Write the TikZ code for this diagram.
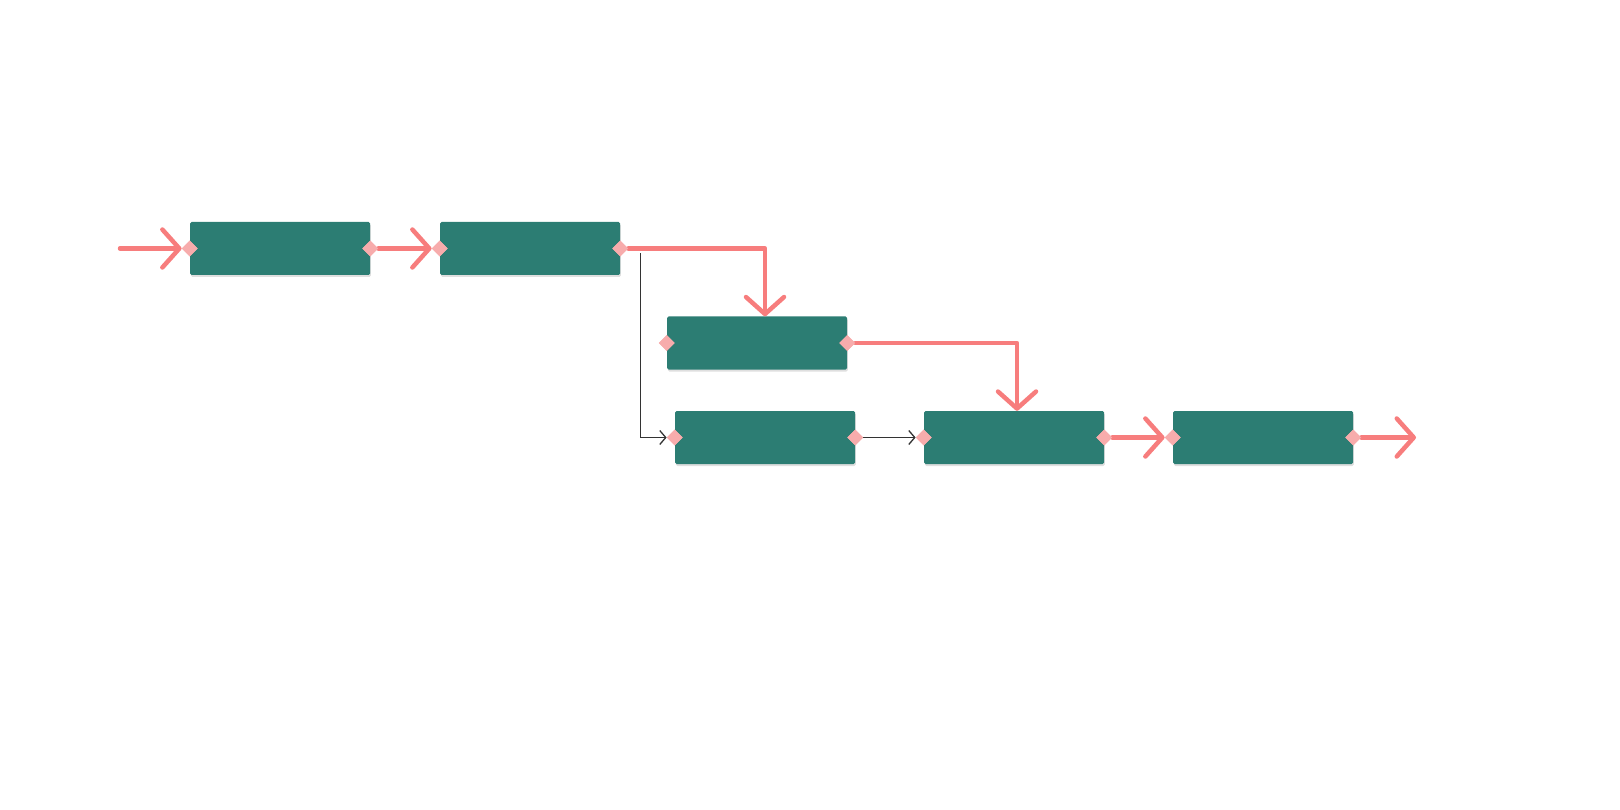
\documentclass[tikz,border=0pt]{standalone}
\usetikzlibrary{arrows.meta,shapes.geometric,shadows}

\definecolor{taskteal}{RGB}{44,125,115}
\definecolor{linkred}{RGB}{247,125,125}
\definecolor{portpink}{RGB}{247,172,172}

\tikzset{
  task/.style={fill=taskteal, rounded corners=1.5pt, minimum width=180pt, minimum height=53pt,
    inner sep=0pt, drop shadow={shadow xshift=0.8pt, shadow yshift=-2pt, opacity=0.25}},
  port/.style={diamond, fill=portpink, minimum size=16pt, inner sep=0pt},
  critical/.style={draw=linkred, line width=4.5pt, line cap=round, line join=round,
    -{Straight Barb[length=17pt, width=38pt, line width=4.5pt, round]}},
  normal/.style={draw=black!80, line width=1.3pt,
    -{Straight Barb[length=6pt, width=14pt, line width=1.3pt]}}
}

\begin{document}
\begin{tikzpicture}[x=1pt, y=-1pt]
    \useasboundingbox (0,0) rectangle (1620,810);

    % Tasks
    \node[task] (t1) at (280,248.5) {};
    \node[task] (t2) at (530,248.5) {};
    \node[task] (t3) at (757,343) {};
    \node[task] (t4) at (765,437.5) {};
    \node[task] (t5) at (1014,437.5) {};
    \node[task] (t6) at (1263,437.5) {};

    % Ports on both sides of each task
    \foreach \t in {t1,t2,t3,t4,t5,t6} {
      \node[port] (\t w) at (\t.west) {};
      \node[port] (\t e) at (\t.east) {};
    }

    % Free ends of the flow
    \coordinate (start) at (120,248.5);
    \coordinate (finish) at (1416,437.5);

    % Critical path
    \draw[critical] (start) -- (t1w.west);
    \draw[critical] (t1e.east) -- (t2w.west);
    \draw[critical] (t2e.east) -| ([xshift=8pt]t3.north);
    \draw[critical] (t3e.east) -| ([xshift=3pt]t5.north);
    \draw[critical] (t5e.east) -- (t6w.west);
    \draw[critical] (t6e.east) -- (finish);

    % Other links
    \draw[normal] ([xshift=20pt,yshift=-5pt]t2.east) |- (t4w.west);
    \draw[normal] (t4e.east) -- (t5w.west);

    % Ports again on top of the links
    \foreach \t in {t1,t2,t3,t4,t5,t6} {
      \node[port] at (\t.west) {};
      \node[port] at (\t.east) {};
    }
\end{tikzpicture}
\end{document}
